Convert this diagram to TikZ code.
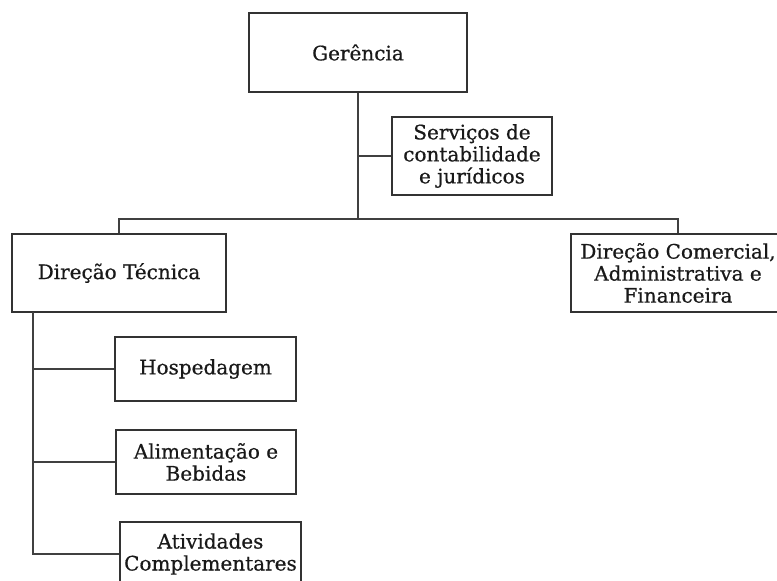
\documentclass[tikz,border=0pt]{standalone}
\usepackage{fontspec}
\setmainfont[FakeBold=0.6]{DejaVu Serif}
\usetikzlibrary{positioning}

\begin{document}
\begin{tikzpicture}[
  x=1pt,y=-1pt,
  box/.style = {draw=black!80,line width=2.4pt,fill=white,align=center,
    text=black!90,inner sep=0pt,
    font=\fontsize{20}{22}\selectfont},
  line/.style = {draw=black!75,line width=2.6pt},
]

  \useasboundingbox (0,0) rectangle (777,581);

  \node[box,minimum width=218pt,minimum height=79pt] (ger) at (358,52.5) {Gerência};
  \node[box,minimum width=160pt,minimum height=78pt] (serv) at (472,156)
    {Serviços de\\contabilidade\\e jurídicos};

  \coordinate (bus) at (358,219);

  \node[box,minimum width=214pt,minimum height=78pt] (dtec) at (119,273) {Direção Técnica};
  \node[box,minimum width=214pt,minimum height=78pt] (dcom) at (678,273)
    {Direção Comercial,\\Administrativa e\\Financeira};

  % subordinados da direcao tecnica
  \node[box,minimum width=181pt,minimum height=64pt] (hosp) at (205.5,369) {Hospedagem};
  \node[box,minimum width=180pt,minimum height=64pt] (alim) at (206,462)
    {Alimentação e\\Bebidas};
  \node[box,minimum width=181pt,minimum height=64pt] (ativ) at (210.5,554)
    {Atividades\\Complementares};

  \coordinate (spine) at (33,312);

  \draw[line] (ger.south) -- (bus);
  \draw[line] (serv.west) -- (serv.west -| bus);
  \draw[line] (dtec.north) |- (bus) -| (dcom.north);
  \draw[line] (spine) |- (ativ.west);
  \draw[line] (hosp.west) -- (hosp.west -| spine);
  \draw[line] (alim.west) -- (alim.west -| spine);

\end{tikzpicture}
\end{document}
